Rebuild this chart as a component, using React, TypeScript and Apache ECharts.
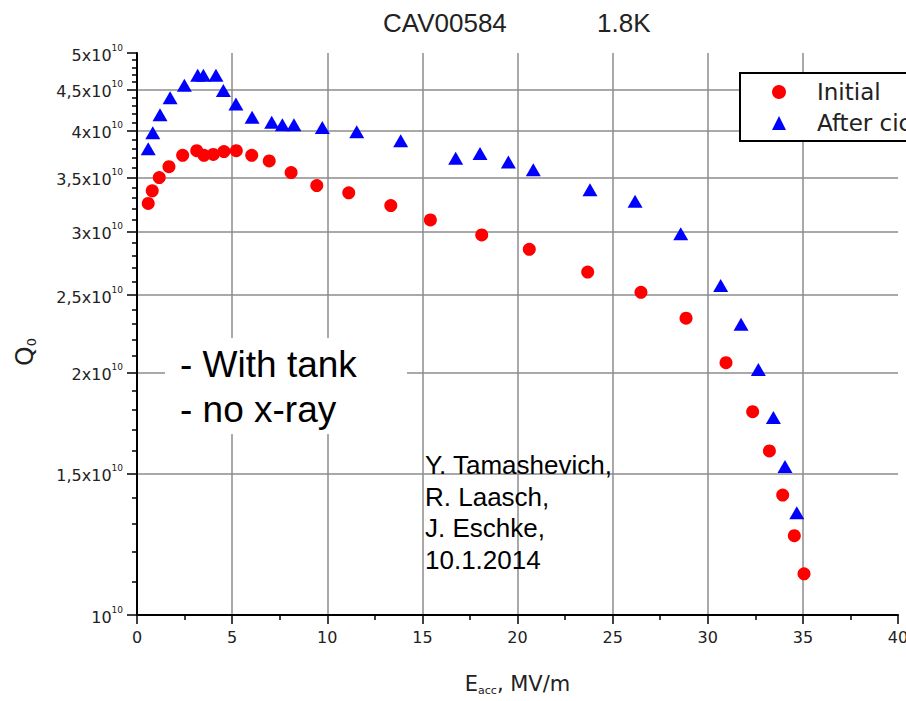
import React, { useEffect, useRef } from "react";
import * as echarts from "echarts";

const TITLE_LEFT = "CAV00584";
const TITLE_RIGHT = "1.8K";
const SERIES_NAMES = ["Initial", "After cic"];

// E_acc (MV/m) and Q0
const INITIAL_E = [0.59, 0.8, 1.17, 1.68, 2.4, 3.14, 3.52, 4.01, 4.57, 5.22, 6.03, 6.95, 8.1, 9.45, 11.13, 13.34, 15.42, 18.12, 20.62, 23.69, 26.49, 28.86, 30.96, 32.36, 33.24, 33.94, 34.55, 35.06];
const INITIAL_Q = [3.25e10, 3.37e10, 3.5e10, 3.61e10, 3.73e10, 3.78e10, 3.73e10, 3.74e10, 3.77e10, 3.78e10, 3.73e10, 3.67e10, 3.55e10, 3.42e10, 3.35e10, 3.23e10, 3.1e10, 2.97e10, 2.85e10, 2.67e10, 2.52e10, 2.34e10, 2.06e10, 1.79e10, 1.6e10, 1.41e10, 1.255e10, 1.125e10];
const AFTER_E = [0.59, 0.83, 1.21, 1.74, 2.49, 3.19, 3.49, 4.15, 4.54, 5.2, 6.05, 7.08, 7.64, 8.25, 9.74, 11.55, 13.86, 16.75, 18.03, 19.52, 20.83, 23.81, 26.18, 28.58, 30.68, 31.75, 32.66, 33.45, 34.06, 34.68];
const AFTER_Q = [3.8e10, 3.98e10, 4.19e10, 4.4e10, 4.56e10, 4.69e10, 4.69e10, 4.69e10, 4.49e10, 4.32e10, 4.16e10, 4.1e10, 4.07e10, 4.07e10, 4.04e10, 3.99e10, 3.89e10, 3.7e10, 3.75e10, 3.66e10, 3.58e10, 3.38e10, 3.27e10, 2.98e10, 2.57e10, 2.3e10, 2.02e10, 1.76e10, 1.53e10, 1.34e10];

// Axis ticks
const Y_MIN = 1e10;
const Y_MAX = 5e10;
const Y_MAJOR = [1e10, 1.5e10, 2e10, 2.5e10, 3e10, 3.5e10, 4e10, 4.5e10, 5e10];
const Y_GRID = [1.5e10, 2e10, 2.5e10, 3e10, 3.5e10, 4e10, 4.5e10];
const Y_MINOR: number[] = [];
for (let i = 11; i < 50; i++) if (i % 5 !== 0) Y_MINOR.push(i * 1e9);
const X_MIN = 0;
const X_MAX = 40;
const X_STEP = 5;

const ANNOT_1 = "- With tank\n- no x-ray";
const ANNOT_2 = "Y. Tamashevich,\nR. Laasch,\nJ. Eschke,\n10.1.2014";

const AXIS_FONT = "DejaVu Sans";
const TEXT_FONT = "Liberation Sans";
const GRID_COLOR = "#8c8c8c";
const LABEL_COLOR = "#222";

function yLabel(v: number): string {
  const m = Math.round(v / 1e9) / 10;
  if (m === 1) return "{b|10}{s|10}";
  return "{b|" + String(m).replace(".", ",") + "x10}{s|10}";
}

export default function App() {
  const ref = useRef<HTMLDivElement>(null);
  useEffect(() => {
    if (!ref.current) return;
    const chart = echarts.init(ref.current, undefined, { renderer: "svg" });
    const logAxisBase = {
      type: "log",
      logBase: 10,
      min: Y_MIN,
      max: Y_MAX,
      position: "left",
      gridIndex: 0,
    };
    const option: any = {
      animation: false,
      backgroundColor: "#fff",
      title: [
        {
          text: TITLE_LEFT,
          left: 383,
          top: 10,
          padding: 0,
          textStyle: { fontFamily: TEXT_FONT, fontSize: 26, fontWeight: "normal", color: LABEL_COLOR },
        },
        {
          text: TITLE_RIGHT,
          left: 597,
          top: 10,
          padding: 0,
          textStyle: { fontFamily: TEXT_FONT, fontSize: 26, fontWeight: "normal", color: LABEL_COLOR },
        },
      ],
      grid: { left: 137, top: 53, right: 62, bottom: 86 },
      legend: {
        orient: "vertical",
        left: 740,
        top: 73,
        data: SERIES_NAMES,
        selectedMode: false,
        itemWidth: 14,
        itemHeight: 14,
        itemGap: 7,
        padding: [7, 30, 6, 32],
        borderColor: "#000",
        borderWidth: 2,
        borderRadius: 0,
        backgroundColor: "#fff",
        textStyle: {
          fontFamily: AXIS_FONT,
          fontSize: 23,
          lineHeight: 24,
          color: LABEL_COLOR,
          padding: [0, 0, 0, 26],
        },
      },
      xAxis: {
        type: "value",
        min: X_MIN,
        max: X_MAX,
        interval: X_STEP,
        axisLine: { onZero: false, lineStyle: { color: "#000", width: 2 } },
        axisTick: { length: 9, lineStyle: { color: "#000", width: 1.5 } },
        minorTick: { show: true, splitNumber: 2, length: 5, lineStyle: { color: "#000", width: 1.5 } },
        axisLabel: { margin: 14, fontFamily: AXIS_FONT, fontSize: 16, color: LABEL_COLOR },
        splitLine: {
          show: true,
          showMinLine: false,
          showMaxLine: false,
          lineStyle: { color: GRID_COLOR, width: 1.5 },
        },
        name: "{n|E}{sub|acc}{n|, MV/m}",
        nameLocation: "middle",
        nameGap: 57,
        nameTextStyle: {
          rich: {
            n: { fontFamily: AXIS_FONT, fontSize: 21, color: LABEL_COLOR, lineHeight: 24 },
            sub: { fontFamily: AXIS_FONT, fontSize: 11, color: LABEL_COLOR, lineHeight: 12, verticalAlign: "bottom", padding: [8, 0, 0, 0] },
          },
        },
      },
      yAxis: [
        {
          ...logAxisBase,
          axisLine: { show: true, onZero: false, lineStyle: { color: "#000", width: 2 } },
          axisTick: { show: true, length: 10, customValues: Y_MAJOR, lineStyle: { color: "#000", width: 1.5 } },
          axisLabel: {
            customValues: Y_MAJOR,
            margin: 14,
            formatter: yLabel,
            rich: {
              b: { fontFamily: AXIS_FONT, fontSize: 16, color: LABEL_COLOR, lineHeight: 20, padding: [4, 0, 0, 0] },
              s: { fontFamily: AXIS_FONT, fontSize: 9, color: LABEL_COLOR, lineHeight: 11, verticalAlign: "top" },
            },
          },
          splitLine: { show: false },
        },
        {
          ...logAxisBase,
          axisLine: { show: false },
          axisTick: { show: true, length: 5, customValues: Y_MINOR, lineStyle: { color: "#000", width: 1.5 } },
          axisLabel: { show: false },
          splitLine: { show: false },
        },
        {
          ...logAxisBase,
          axisLine: { show: false },
          axisTick: { show: false, customValues: Y_GRID },
          axisLabel: { show: false },
          splitLine: { show: true, lineStyle: { color: GRID_COLOR, width: 1.5 } },
        },
      ],
      series: [
        {
          name: SERIES_NAMES[0],
          type: "scatter",
          yAxisIndex: 0,
          symbol: "circle",
          symbolSize: 13,
          itemStyle: { color: "#ff0000", opacity: 1 },
          data: INITIAL_E.map((e, i) => [e, INITIAL_Q[i]]),
          z: 5,
        },
        {
          name: SERIES_NAMES[1],
          type: "scatter",
          yAxisIndex: 0,
          symbol: "triangle",
          symbolSize: [15, 13],
          itemStyle: { color: "#0000ff", opacity: 1 },
          data: AFTER_E.map((e, i) => [e, AFTER_Q[i]]),
          z: 5,
        },
      ],
      graphic: [
        {
          type: "rect",
          shape: { x: 165, y: 338, width: 242, height: 96 },
          style: { fill: "#fff" },
          z: 10,
        },
        {
          type: "text",
          x: 180,
          y: 342,
          z: 11,
          style: {
            text: ANNOT_1,
            fontFamily: TEXT_FONT,
            fontSize: 37,
            lineHeight: 45,
            fill: "#000",
          },
        },
        {
          type: "text",
          x: 425,
          y: 449,
          z: 11,
          style: {
            text: ANNOT_2,
            fontFamily: TEXT_FONT,
            fontSize: 26,
            lineHeight: 31.7,
            fill: "#000",
          },
        },
        {
          type: "text",
          x: 24,
          y: 352,
          rotation: Math.PI / 2,
          z: 11,
          style: {
            text: "{q|Q}{s|0}",
            align: "center",
            verticalAlign: "middle",
            rich: {
              q: { fontFamily: AXIS_FONT, fontSize: 25, fill: LABEL_COLOR, lineHeight: 28 },
              s: { fontFamily: AXIS_FONT, fontSize: 13, fill: LABEL_COLOR, lineHeight: 14, verticalAlign: "bottom" },
            },
          },
        },
      ],
    };
    chart.setOption(option);
    return () => chart.dispose();
  }, []);
  return (
    <div
      style={{
        position: "absolute",
        left: 0,
        top: 0,
        width: 906,
        height: 701,
        overflow: "hidden",
        background: "#fff",
      }}
    >
      <div ref={ref} style={{ width: 960, height: 701 }} />
    </div>
  );
}
